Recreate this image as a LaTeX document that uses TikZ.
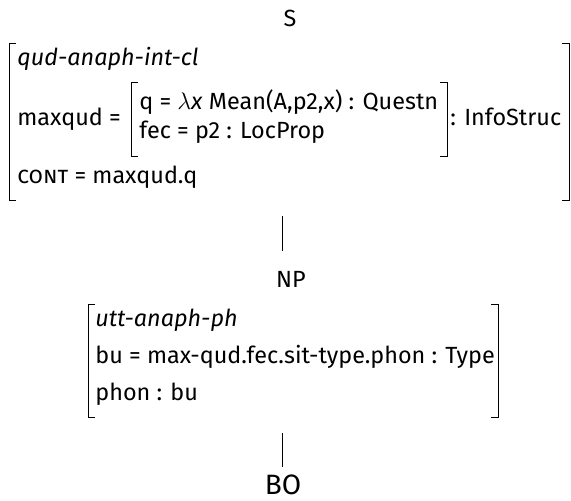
\documentclass[tikz,border=0pt]{standalone}
\usepackage{fontspec}
\setmainfont{Fira Sans}
\begin{document}
\begin{tikzpicture}[x=0.5pt,y=-0.5pt,
  txt/.style={anchor=base west,inner sep=0pt,font=\fontsize{11.7}{14}\selectfont},
  lbl/.style={anchor=base,inner sep=0pt,font=\fontsize{11.7}{14}\selectfont},
  brk/.style={line width=0.5pt}]
\useasboundingbox (0,0) rectangle (571,500);
% S
\node[lbl] (S) at (290,26) {S};
% top AVM
\draw[brk] (16,43) -- (9,43) -- (9,200) -- (16,200);
\draw[brk] (562,43) -- (569,43) -- (569,200) -- (562,200);
\node[txt] (r1) at (17,65) {\itshape qud-anaph-int-cl};
\node[txt] (r2) at (17,125) {maxqud =};
\draw[brk] (138,82) -- (131,82) -- (131,156) -- (138,156);
\draw[brk] (440,82) -- (447,82) -- (447,156) -- (440,156);
\node[txt] (q) at (139,109) {q = $\lambda$\textit{x} Mean(A,p2,x) : Questn};
\node[txt] (fec) at (139,138) {fec = p2 : LocProp};
\node[txt] (info) at (450,125) {: InfoStruc};
\node[txt] (r3) at (17,183) {\textsc{cont} = maxqud.q};
% line 1
\coordinate (l1a) at (282,216);
\coordinate (l1b) at (282,251);
\draw[brk] (l1a) -- (l1b);
\node[lbl] (NP) at (291,287) {NP};
% second AVM
\draw[brk] (95,304) -- (88,304) -- (88,417) -- (95,417);
\draw[brk] (491,304) -- (498,304) -- (498,417) -- (491,417);
\node[txt] (u1) at (95,326) {\itshape utt-anaph-ph};
\node[txt] (u2) at (95,363) {bu = max-qud.fec.sit-type.phon : Type};
\node[txt] (u3) at (95,400) {phon : bu};
% line 2
\coordinate (l2a) at (282,433);
\coordinate (l2b) at (282,467);
\draw[brk] (l2a) -- (l2b);
\node[lbl,font=\fontsize{14}{16}\selectfont] (BO) at (283,494) {BO};
\end{tikzpicture}
\end{document}
